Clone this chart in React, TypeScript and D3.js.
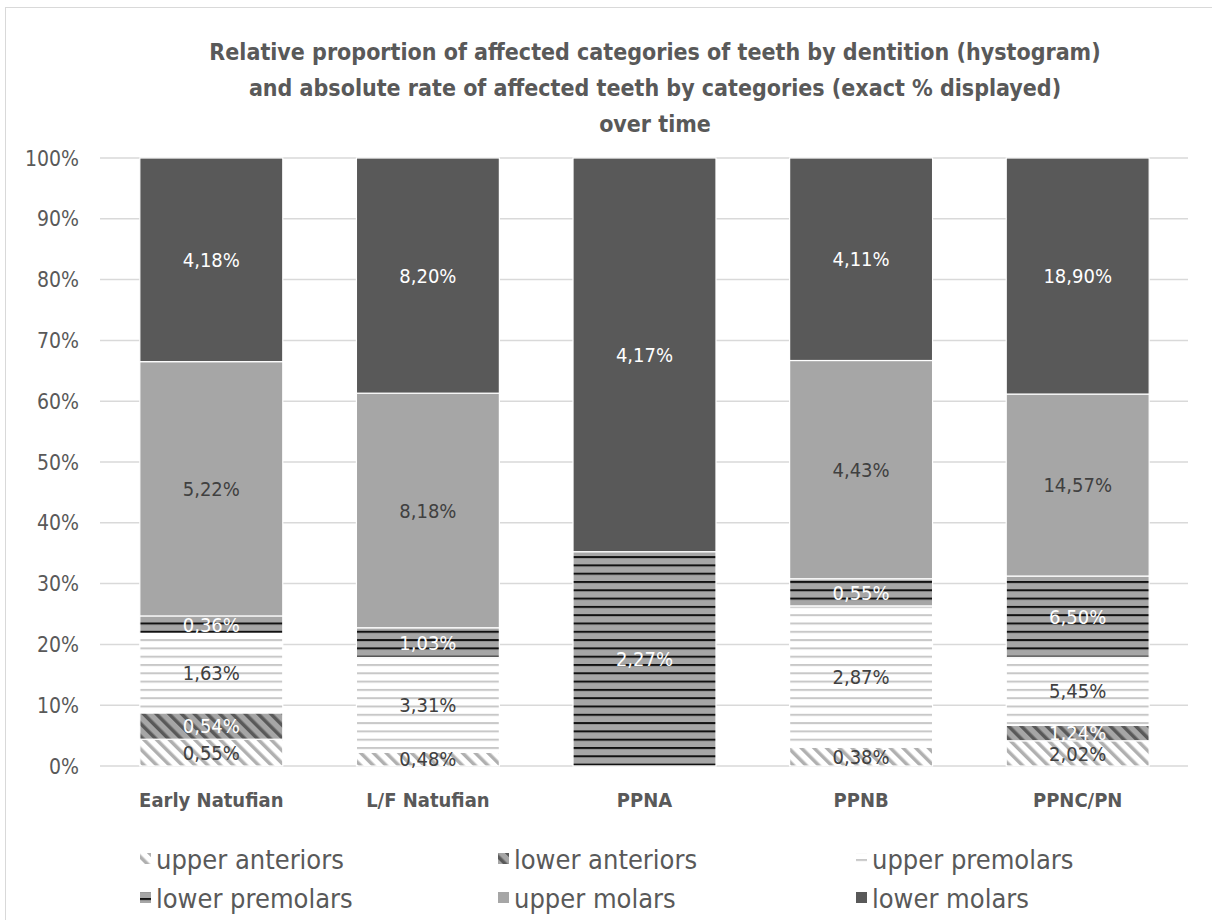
import React from "react";
import * as d3 from "d3";

const categories = ["Early Natufian", "L/F Natufian", "PPNA", "PPNB", "PPNC/PN"];
const seriesNames = ["upper anteriors", "lower anteriors", "upper premolars", "lower premolars", "upper molars", "lower molars"];
const upperAnteriors = [0.55, 0.48, 0, 0.38, 2.02];
const lowerAnteriors = [0.54, 0, 0, 0, 1.24];
const upperPremolars = [1.63, 3.31, 0, 2.87, 5.45];
const lowerPremolars = [0.36, 1.03, 2.27, 0.55, 6.5];
const upperMolars = [5.22, 8.18, 0, 4.43, 14.57];
const lowerMolars = [4.18, 8.2, 4.17, 4.11, 18.9];
const yTicks = [0, 0.1, 0.2, 0.3, 0.4, 0.5, 0.6, 0.7, 0.8, 0.9, 1];
const titleLines = [
  "Relative proportion of affected categories of teeth by dentition (hystogram)",
  "and absolute rate  of affected teeth by categories (exact % displayed)",
  "over time",
];

const seriesValues = [upperAnteriors, lowerAnteriors, upperPremolars, lowerPremolars, upperMolars, lowerMolars];
const fills = ["url(#pUA)", "url(#pLA)", "url(#pUP)", "url(#pLP)", "#a6a6a6", "#595959"];
const labelColors = ["#404040", "#ffffff", "#404040", "#ffffff", "#404040", "#ffffff"];

const FONT = "'Liberation Sans Narrow', 'Arial Narrow', 'DejaVu Sans Condensed', sans-serif";

export default function App() {
  const W = 1212, H = 920;
  const rows = categories.map((c, i) => {
    const r: any = { cat: c };
    seriesNames.forEach((s, k) => (r[s] = seriesValues[k][i]));
    return r;
  });
  const stack = d3.stack<any>().keys(seriesNames).offset(d3.stackOffsetExpand);
  const stacked = stack(rows);

  const x = d3.scaleBand().domain(categories).range([103, 1186]).paddingInner(0.34).paddingOuter(0.17);
  const y = d3.scaleLinear().domain([0, 1]).range([766, 158]);
  const fmt = (v: number) => v.toFixed(2).replace(".", ",") + "%";

  const legendPos = [
    [140, 859], [498, 859], [856, 859],
    [140, 898], [498, 898], [856, 898],
  ];

  return (
    <svg width={W} height={H} style={{ display: "block", position: "absolute", left: 0, top: 0 }} fontFamily={FONT}>
      <defs>
        <pattern id="pUA" patternUnits="userSpaceOnUse" width="9" height="9" patternTransform="rotate(-45)">
          <rect width="9" height="9" fill="#ffffff" />
          <rect x="0" y="0" width="3.5" height="9" fill="#b0b0b0" />
        </pattern>
        <pattern id="pLA" patternUnits="userSpaceOnUse" width="9" height="9" patternTransform="rotate(-45)">
          <rect width="9" height="9" fill="#a6a6a6" />
          <rect x="0" y="0" width="3.5" height="9" fill="#595959" />
        </pattern>
        <pattern id="pUP" patternUnits="userSpaceOnUse" width="8" height="8.3">
          <rect width="8" height="8.3" fill="#ffffff" />
          <rect x="0" y="0" width="8" height="2" fill="#c8c8c8" />
        </pattern>
        <pattern id="pLP" patternUnits="userSpaceOnUse" width="8" height="8.3">
          <rect width="8" height="8.3" fill="#a6a6a6" />
          <rect x="0" y="0" width="8" height="2" fill="#111111" />
        </pattern>
      </defs>
      <rect x={0} y={0} width={W} height={H} fill="#ffffff" />
      <rect x={5.5} y={7.5} width={1240} height={960} fill="none" stroke="#d9d9d9" strokeWidth={1} />

      {titleLines.map((t, i) => (
        <text key={i} x={655} y={60 + i * 36} textAnchor="middle" fontSize={23} fontWeight="bold" fill="#595959">
          {t}
        </text>
      ))}

      {yTicks.map((t) => (
        <g key={t}>
          <line x1={100} x2={1188} y1={y(t)} y2={y(t)} stroke="#d9d9d9" strokeWidth={1.5} />
          <text x={79} y={y(t)} dy="0.36em" textAnchor="end" fontSize={21} fill="#595959">
            {d3.format(".0%")(t)}
          </text>
        </g>
      ))}

      {stacked.map((layer, k) => (
        <g key={layer.key}>
          {layer.map((d, i) => {
            const v = seriesValues[k][i];
            if (!v) return null;
            const bx = x(categories[i])!;
            const y0 = y(d[0]);
            const y1 = y(d[1]);
            return (
              <rect key={i} x={bx} y={y1} width={x.bandwidth()} height={y0 - y1} fill={fills[k]} stroke="#ffffff" strokeWidth={1.2} />
            );
          })}
        </g>
      ))}

      {stacked.map((layer, k) => (
        <g key={layer.key + "l"}>
          {layer.map((d, i) => {
            const v = seriesValues[k][i];
            if (!v) return null;
            const cx = x(categories[i])! + x.bandwidth() / 2;
            const cy = (y(d[0]) + y(d[1])) / 2;
            return (
              <text key={i} x={cx} y={cy} dy="0.36em" textAnchor="middle" fontSize={20} fill={labelColors[k]}>
                {fmt(v)}
              </text>
            );
          })}
        </g>
      ))}

      {categories.map((c) => (
        <text key={c} x={x(c)! + x.bandwidth() / 2} y={800} dy="0.36em" textAnchor="middle" fontSize={20} fontWeight="bold" fill="#595959">
          {c}
        </text>
      ))}

      {seriesNames.map((s, k) => (
        <g key={s} transform={`translate(${legendPos[k][0]},${legendPos[k][1]})`}>
          <rect x={0} y={-6} width={11} height={11} fill={fills[k]} />
          <text x={16} y={0} dy="0.36em" fontSize={27} fill="#595959">
            {s}
          </text>
        </g>
      ))}
    </svg>
  );
}
